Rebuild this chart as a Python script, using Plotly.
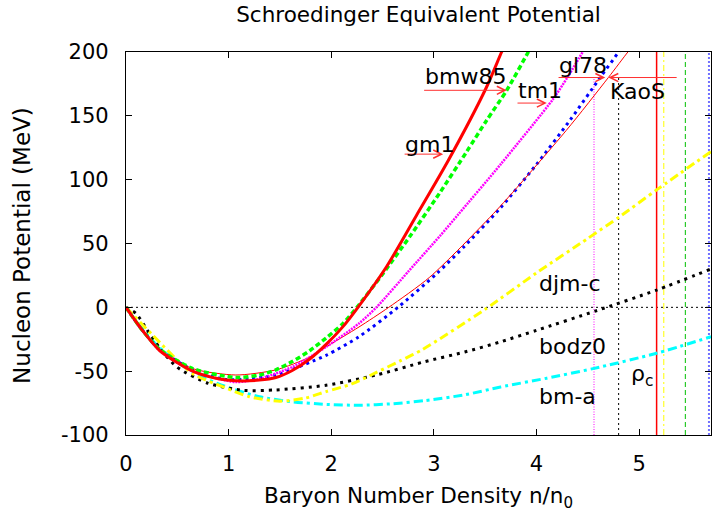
import plotly.graph_objects as go

# ---------------- data ----------------
gm1_x = [0, 0.15, 0.33, 0.65, 0.9, 1.07, 1.3, 1.46, 1.62, 1.79, 1.95, 2.11, 2.26, 2.54, 2.83, 3.14, 3.51, 3.66, 3.75]
gm1_y = [0, -17, -34, -50, -56, -57.5, -57, -55, -49.5, -40.5, -29, -15.5, 0, 32, 72, 115, 172, 200, 216]

bmw85_x = [0, 0.15, 0.33, 0.65, 1.07, 1.3, 1.46, 1.62, 1.79, 1.95, 2.11, 2.25, 2.5, 2.77, 3.06, 3.32, 3.51, 3.71, 3.92, 4.0]
bmw85_y = [0, -17, -33, -48, -55, -53, -49, -42.5, -34, -24, -13, 0, 26, 56, 90, 122, 146, 170, 200, 211]

tm1_x = [0, 0.15, 0.33, 0.65, 1.07, 1.3, 1.62, 1.95, 2.27, 2.44, 2.75, 3.06, 3.24, 3.65, 4.16, 4.30, 4.45, 4.5]
tm1_y = [0, -17, -34, -50, -58.5, -56, -46.7, -31, -12.6, 0, 28, 56, 73, 112, 163, 180, 200, 207]

gl78_x = [0, 0.15, 0.33, 0.65, 0.97, 1.2, 1.46, 1.95, 2.27, 2.65, 3.03, 3.3, 3.65, 4.0, 4.33, 4.62, 4.80, 4.85]
gl78_y = [0, -17, -33, -49, -56.5, -56, -53, -37.6, -23, 0, 26.6, 48, 78, 112, 147, 180, 200, 206]

kaos_x = [0, 0.15, 0.33, 0.65, 1.07, 1.46, 1.79, 1.95, 2.27, 2.56, 2.96, 3.61, 4.29, 4.70, 4.89, 4.95]
kaos_y = [0, -17, -33, -48, -53, -49, -39, -31, -15.4, 0, 23.7, 76, 138.6, 180, 200, 206]

djmc_x = [0, 0.25, 0.65, 0.97, 1.2, 1.5, 1.75, 1.95, 2.2, 2.44, 2.67, 2.89, 3.5, 4.0, 4.5, 4.81, 5.17, 5.7]
djmc_y = [0, -21, -52, -63, -70, -73.5, -71, -66, -60, -51, -42, -33, -1.5, 27, 54, 71, 92, 122]

bodz0_x = [0, 0.1, 0.2, 0.33, 0.5, 0.8, 1.14, 1.46, 1.95, 2.44, 2.89, 3.3, 3.65, 4.0, 4.59, 5.17, 5.7]
bodz0_y = [0, -5, -17, -32, -47, -59.5, -65, -64.7, -61, -53, -43, -35, -27, -18, -2.5, 13.5, 30]

bma_x = [0, 0.15, 0.33, 0.65, 0.97, 1.3, 1.62, 1.95, 2.27, 2.6, 2.92, 3.3, 3.65, 4.1, 4.55, 5.17, 5.7]
bma_y = [0, -16, -32, -51, -62, -70, -74, -76, -76.7, -75.5, -73, -68.5, -62.4, -55.5, -48, -36, -23]

# critical densities (vertical markers) and their upper ends
rho_c_x = [4.56, 4.80, 5.17, 5.24, 5.45, 5.68]
rho_c_top = [180, 180, 200, 200, 200, 200]

# labelled arrows: (tail x, head x, y)
arrow_tail_x = [2.70, 2.89, 3.80, 4.20, 5.38]
arrow_head_x = [3.09, 3.71, 4.10, 4.67, 4.70]
arrow_y = [120, 170, 160, 180, 180]

# curve labels
label_text = ["gm1", "bmw85", "tm1", "gl78", "KaoS", "djm-c", "bodz0", "bm-a", "ρ<sub>c</sub>"]
label_x = [2.70, 2.895, 3.80, 4.20, 4.70, 4.0, 4.0, 4.0, 4.90]
label_y = [127.5, 180.5, 169.5, 189.5, 169, 19, -31, -70, -53]

xtick_vals = [0, 1, 2, 3, 4, 5]
ytick_vals = [-100, -50, 0, 50, 100, 150, 200]
ytick_text = ["-100", "-50", "0", "50", "100", "150", "200"]

# ---------------- figure ----------------
fig = go.Figure()

def curve(x, y, color, width, dash):
    fig.add_trace(go.Scatter(
        x=x, y=y, mode="lines",
        line=dict(color=color, width=width, dash=dash, shape="spline", smoothing=0.7),
        showlegend=False, hoverinfo="skip"))

# zero line
fig.add_trace(go.Scatter(x=[0, 5.7], y=[0, 0], mode="lines",
                         line=dict(color="black", width=1, dash="2px,3px"),
                         showlegend=False, hoverinfo="skip"))

# vertical rho_c markers
vstyles = [
    ("#ff00ff", 1, "1px,1.5px"),
    ("black", 1, "2px,3px"),
    ("#ff0000", 1.5, "solid"),
    ("#ffff00", 1, "6px,3px,2px,3px"),
    ("#00c000", 1, "5px,3px"),
    ("#7070ff", 2, "2px,2px"),
]
for xv, top, (c, w, d) in zip(rho_c_x, rho_c_top, vstyles):
    fig.add_trace(go.Scatter(x=[xv, xv], y=[-100, top], mode="lines",
                             line=dict(color=c, width=w, dash=d),
                             showlegend=False, hoverinfo="skip"))

curve(bma_x, bma_y, "#00ffff", 3, "9px,4px,3px,4px")
curve(bodz0_x, bodz0_y, "black", 3, "3px,5px")
curve(djmc_x, djmc_y, "#ffff00", 3, "9px,4px,3px,4px")
curve(gl78_x, gl78_y, "#0000ff", 3, "3px,4px")
curve(kaos_x, kaos_y, "#ff0000", 1, "solid")
curve(tm1_x, tm1_y, "#ff00ff", 2.5, "2px,1px")
curve(bmw85_x, bmw85_y, "#00ff00", 3.5, "5px,3px")
curve(gm1_x, gm1_y, "#ff0000", 3, "solid")

for tx, hx, yy in zip(arrow_tail_x, arrow_head_x, arrow_y):
    fig.add_annotation(x=hx, y=yy, ax=tx, ay=yy, xref="x", yref="y",
                       axref="x", ayref="y", text="", showarrow=True,
                       arrowhead=5, arrowsize=1.6, arrowwidth=1,
                       arrowcolor="#ff3030")

for t, xx, yy in zip(label_text, label_x, label_y):
    fig.add_annotation(x=xx, y=yy, xref="x", yref="y", text=t, showarrow=False,
                       xanchor="left", yanchor="middle",
                       font=dict(family="DejaVu Sans", size=22, color="black"))

# axis titles
fig.add_annotation(x=0.5, y=-0.162, xref="paper", yref="paper",
                   text="Baryon Number Density n/n<sub>0</sub>", showarrow=False,
                   xanchor="center", yanchor="middle",
                   font=dict(family="DejaVu Sans", size=21.5, color="black"))
fig.add_annotation(x=-0.178, y=0.496, xref="paper", yref="paper",
                   text="Nucleon Potential (MeV)", showarrow=False, textangle=-90,
                   xanchor="center", yanchor="middle",
                   font=dict(family="DejaVu Sans", size=23, color="black"))

fig.update_layout(
    width=714, height=516,
    margin=dict(l=126, r=3, t=52, b=81),
    paper_bgcolor="white", plot_bgcolor="white",
    font=dict(family="DejaVu Sans", size=21, color="black"),
    title=dict(text="Schroedinger Equivalent Potential", xref="paper", x=0.5,
               xanchor="center", yref="container", y=1 - 14 / 516, yanchor="middle",
               font=dict(family="DejaVu Sans", size=21.5, color="black")),
)
fig.update_xaxes(range=[0, 5.7], tickvals=xtick_vals, showline=True, linecolor="black",
                 linewidth=1.2, mirror="ticks", ticks="inside", ticklen=6,
                 tickcolor="black", showgrid=False, zeroline=False, ticklabelstandoff=10)
fig.update_yaxes(range=[-100, 200], tickvals=ytick_vals, ticktext=ytick_text,
                 showline=True, linecolor="black", linewidth=1.2, mirror="ticks",
                 ticks="inside", ticklen=6, tickcolor="black", showgrid=False,
                 zeroline=False, ticklabelstandoff=12)

fig.write_html("out.html", config={"displayModeBar": False},
               post_script="document.body.style.margin='0px';")
